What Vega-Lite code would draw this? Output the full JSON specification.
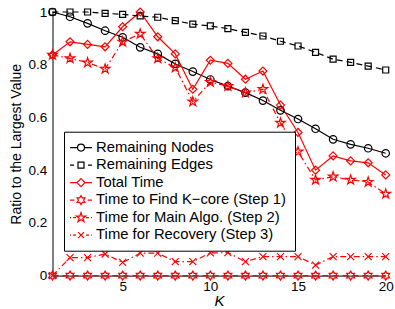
{
  "$schema": "https://vega.github.io/schema/vega-lite/v6.json",
  "width": 333.2,
  "height": 263.6,
  "autosize": "none",
  "padding": {"left": 52.5, "top": 12, "right": 9.3, "bottom": 33.4},
  "config": {
    "view": {"stroke": null},
    "font": "Liberation Sans",
    "axis": {
      "grid": false,
      "ticks": false,
      "domainColor": "#000000",
      "domainWidth": 1,
      "labelColor": "#000000",
      "titleColor": "#000000",
      "labelFont": "Liberation Sans",
      "titleFont": "Liberation Sans",
      "labelFontSize": 13.5,
      "titleFontWeight": "normal",
      "labelFlush": false
    }
  },
  "data": {
    "values": [
      {"K": 1, "nodes": 1.0, "edges": 1.0, "total": 0.837, "step1": 0.0, "step2": 0.837, "step3": 0.0},
      {"K": 2, "nodes": 0.982, "edges": 1.0, "total": 0.887, "step1": 0.0, "step2": 0.824, "step3": 0.068},
      {"K": 3, "nodes": 0.957, "edges": 1.0, "total": 0.877, "step1": 0.0, "step2": 0.808, "step3": 0.068},
      {"K": 4, "nodes": 0.929, "edges": 0.995, "total": 0.868, "step1": 0.0, "step2": 0.784, "step3": 0.082},
      {"K": 5, "nodes": 0.904, "edges": 0.991, "total": 0.944, "step1": 0.0, "step2": 0.887, "step3": 0.05},
      {"K": 6, "nodes": 0.866, "edges": 0.985, "total": 1.0, "step1": 0.0, "step2": 0.917, "step3": 0.085},
      {"K": 7, "nodes": 0.841, "edges": 0.98, "total": 0.906, "step1": 0.0, "step2": 0.824, "step3": 0.085},
      {"K": 8, "nodes": 0.803, "edges": 0.967, "total": 0.841, "step1": 0.0, "step2": 0.789, "step3": 0.053},
      {"K": 9, "nodes": 0.774, "edges": 0.954, "total": 0.707, "step1": 0.0, "step2": 0.66, "step3": 0.053},
      {"K": 10, "nodes": 0.744, "edges": 0.947, "total": 0.817, "step1": 0.0, "step2": 0.734, "step3": 0.086},
      {"K": 11, "nodes": 0.719, "edges": 0.937, "total": 0.805, "step1": 0.0, "step2": 0.719, "step3": 0.087},
      {"K": 12, "nodes": 0.694, "edges": 0.923, "total": 0.745, "step1": 0.0, "step2": 0.694, "step3": 0.053},
      {"K": 13, "nodes": 0.664, "edges": 0.909, "total": 0.776, "step1": 0.0, "step2": 0.707, "step3": 0.072},
      {"K": 14, "nodes": 0.627, "edges": 0.889, "total": 0.647, "step1": 0.0, "step2": 0.579, "step3": 0.072},
      {"K": 15, "nodes": 0.594, "edges": 0.871, "total": 0.543, "step1": 0.0, "step2": 0.47, "step3": 0.072},
      {"K": 16, "nodes": 0.557, "edges": 0.847, "total": 0.4, "step1": 0.0, "step2": 0.363, "step3": 0.04},
      {"K": 17, "nodes": 0.517, "edges": 0.821, "total": 0.454, "step1": 0.0, "step2": 0.375, "step3": 0.072},
      {"K": 18, "nodes": 0.498, "edges": 0.809, "total": 0.435, "step1": 0.0, "step2": 0.363, "step3": 0.072},
      {"K": 19, "nodes": 0.483, "edges": 0.795, "total": 0.428, "step1": 0.0, "step2": 0.355, "step3": 0.072},
      {"K": 20, "nodes": 0.464, "edges": 0.78, "total": 0.382, "step1": 0.0, "step2": 0.31, "step3": 0.072}
    ]
  },
  "transform": [
    {"fold": ["nodes", "edges", "total", "step1", "step2", "step3"], "as": ["series", "v"]}
  ],
  "encoding": {
    "x": {
      "field": "K",
      "type": "quantitative",
      "scale": {"domain": [1, 20], "nice": false, "zero": false},
      "axis": {
        "values": [5, 10, 15, 20],
        "format": "d",
        "title": "K",
        "titleFontStyle": "italic",
        "titleFontSize": 15,
        "titlePadding": 0,
        "labelPadding": 4
      }
    },
    "y": {
      "field": "v",
      "type": "quantitative",
      "scale": {"domain": [0, 1], "nice": false},
      "axis": {
        "values": [0, 0.2, 0.4, 0.6, 0.8, 1],
        "format": "~g",
        "title": "Ratio to the Largest Value",
        "titleFontSize": 14,
        "titlePadding": 4,
        "labelPadding": 5.8
      }
    },
    "color": {
      "field": "series",
      "type": "nominal",
      "scale": {
        "domain": ["nodes", "edges", "total", "step1", "step2", "step3"],
        "range": ["#000000", "#000000", "#ff0000", "#ff0000", "#ff0000", "#ff0000"]
      },
      "legend": {
        "orient": "none",
        "legendX": 11.5,
        "legendY": 119.7,
        "title": null,
        "fillColor": "#ffffff",
        "strokeColor": "#000000",
        "padding": 8.5,
        "rowPadding": 1.5,
        "symbolSize": 144,
        "symbolStrokeWidth": 1.2,
        "symbolOffset": 1.1,
        "labelOffset": 7.7,
        "labelFontSize": 14.8,
        "labelFont": "Liberation Sans",
        "labelColor": "#000000",
        "labelLimit": 0,
        "labelExpr": "datum.value == 'nodes' ? 'Remaining Nodes' : datum.value == 'edges' ? 'Remaining Edges' : datum.value == 'total' ? 'Total Time' : datum.value == 'step1' ? 'Time to Find K−core (Step 1)' : datum.value == 'step2' ? 'Time for Main Algo. (Step 2)' : 'Time for Recovery (Step 3)'"
      }
    }
  },
  "layer": [
    {
      "transform": [{"filter": {"field": "series", "oneOf": ["nodes", "total"]}}],
      "mark": {"type": "line", "strokeWidth": 1.2}
    },
    {
      "transform": [{"filter": {"field": "series", "oneOf": ["edges", "step1"]}}],
      "mark": {"type": "line", "strokeWidth": 1.2, "strokeDash": [6, 4]}
    },
    {
      "transform": [{"filter": {"field": "series", "oneOf": ["step2", "step3"]}}],
      "mark": {"type": "line", "strokeWidth": 1.2, "strokeDash": [6, 3, 1.5, 3]}
    },
    {
      "transform": [{"filter": {"field": "series", "equal": "nodes"}}],
      "mark": {"type": "point", "filled": false, "strokeWidth": 1.2, "opacity": 1, "shape": "circle", "size": 56}
    },
    {
      "transform": [{"filter": {"field": "series", "equal": "edges"}}],
      "mark": {"type": "point", "filled": false, "strokeWidth": 1.2, "opacity": 1, "shape": "square", "size": 36}
    },
    {
      "transform": [{"filter": {"field": "series", "equal": "total"}}],
      "mark": {"type": "point", "filled": false, "strokeWidth": 1.2, "opacity": 1, "shape": "diamond", "size": 64}
    },
    {
      "transform": [{"filter": {"field": "series", "equal": "step1"}}],
      "mark": {"type": "point", "filled": false, "strokeWidth": 1.2, "opacity": 1, "size": 81, "shape": "M0,-1L0.289,-0.5L0.866,-0.5L0.577,0L0.866,0.5L0.289,0.5L0,1L-0.289,0.5L-0.866,0.5L-0.577,0L-0.866,-0.5L-0.289,-0.5Z"}
    },
    {
      "transform": [{"filter": {"field": "series", "equal": "step2"}}],
      "mark": {"type": "point", "filled": false, "strokeWidth": 1.2, "opacity": 1, "size": 100, "shape": "M0,-1L0.225,-0.309L0.951,-0.309L0.363,0.118L0.588,0.809L0,0.382L-0.588,0.809L-0.363,0.118L-0.951,-0.309L-0.225,-0.309Z"}
    },
    {
      "transform": [{"filter": {"field": "series", "equal": "step3"}}],
      "mark": {"type": "point", "filled": false, "strokeWidth": 1.2, "opacity": 1, "size": 49, "shape": "M-1,-1L1,1M-1,1L1,-1"}
    },
    {
      "transform": [{"filter": {"field": "K", "gt": 100}}],
      "mark": {"type": "point", "filled": false, "strokeWidth": 1.2, "opacity": 1},
      "encoding": {
        "shape": {
          "field": "series",
          "type": "nominal",
          "scale": {
            "domain": ["nodes", "edges", "total", "step1", "step2", "step3"],
            "range": [
              "M-1.83,0H-0.58M0.58,0H1.83M0.58,0A0.58,0.58 0 1 1 -0.58,0A0.58,0.58 0 1 1 0.58,0",
              "M-1.83,0H-1.17M1.17,0H1.83M-0.5,-0.5H0.5V0.5H-0.5Z",
              "M-1.83,0H-0.67M0.67,0H1.83M0,-0.67L0.67,0L0,0.67L-0.67,0Z",
              "M-1.83,0H-1.1M1.1,0H1.83M0,-0.75L0.22,-0.375L0.65,-0.375L0.43,0L0.65,0.375L0.22,0.375L0,0.75L-0.22,0.375L-0.65,0.375L-0.43,0L-0.65,-0.375L-0.22,-0.375Z",
              "M-1.83,0H-1.67M-1.33,0H-0.83M0.83,0H1.33M1.67,0H1.83M0,-0.83L0.19,-0.26L0.79,-0.26L0.3,0.1L0.49,0.67L0,0.32L-0.49,0.67L-0.3,0.1L-0.79,-0.26L-0.19,-0.26Z",
              "M-1.83,0H-1.67M-1.33,0H-0.83M0.83,0H1.33M1.67,0H1.83M-0.5,-0.5L0.5,0.5M-0.5,0.5L0.5,-0.5"
            ]
          }
        }
      }
    }
  ]
}
